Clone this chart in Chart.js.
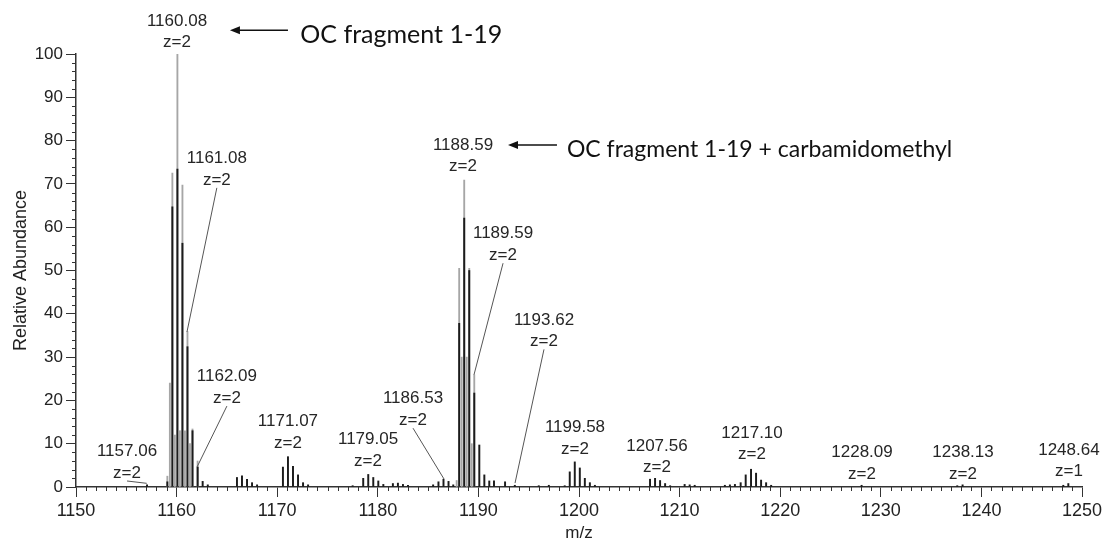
<!DOCTYPE html>
<html><head><meta charset="utf-8">
<script src="https://cdn.jsdelivr.net/npm/chart.js@4.4.1/dist/chart.umd.min.js"></script>
<style>html,body{margin:0;padding:0;background:#fff;}#wrap{width:1110px;height:544px;position:relative;}</style>
</head><body><div id="wrap"><canvas id="c" width="1110" height="544"></canvas></div>
<script>
// ---- data ----
const xTickValues = [1150,1160,1170,1180,1190,1200,1210,1220,1230,1240,1250];
const yTickValues = [0,10,20,30,40,50,60,70,80,90,100];

const mzDark = [1157.06,1159.08,1159.58,1160.08,1160.58,1161.08,1161.58,1162.09,1162.59,1163.1,
  1166.0,1166.5,1167.0,1167.5,1168.0,
  1170.57,1171.07,1171.57,1172.07,1172.57,1173.07,
  1177.5,1178.55,1179.05,1179.55,1180.05,1180.55,1181.5,1182.0,1182.5,1183.0,
  1185.5,1186.03,1186.53,1187.03,1187.5,
  1188.09,1188.59,1189.09,1189.59,1190.09,1190.59,1191.08,1191.55,1192.65,1193.62,
  1196.0,1197.0,1198.58,1199.08,1199.58,1200.08,1200.58,1201.08,1201.58,
  1207.06,1207.56,1208.06,1208.56,1209.06,1210.5,1211.0,1211.5,
  1214.5,1215.0,1215.5,1216.07,1216.57,1217.10,1217.6,1218.1,1218.6,1219.1,
  1228.09,1237.6,1238.13,1248.14,1248.64];
const abDark = [0.5,1.2,64.7,73.4,56.3,32.4,13.0,4.6,1.3,0.5,
  2.2,2.6,1.8,1.0,0.5,
  4.6,7.0,4.8,2.8,1.0,0.5,
  0.3,2.0,2.9,2.2,1.4,0.6,0.8,0.9,0.6,0.4,
  0.5,1.2,1.8,1.3,0.5,
  37.8,62.1,50.0,21.7,9.7,2.8,1.4,1.4,1.2,0.4,
  0.3,0.4,0.3,3.5,5.8,4.4,2.0,1.0,0.4,
  1.8,2.0,1.5,0.8,0.3,0.6,0.5,0.4,
  0.4,0.5,0.6,1.0,2.8,4.1,3.2,1.6,1.0,0.4,
  0.4,0.3,0.5,0.4,0.8];

const mzLight = [1159.08,1159.33,1159.58,1159.83,1160.08,1160.33,1160.58,1160.83,1161.08,1161.33,1161.58,1162.09,
  1187.84,1188.09,1188.34,1188.59,1188.84,1189.09,1189.34,1189.59];
const abLight = [2.5,24.0,72.5,12.0,100,13.0,69.7,13.0,35.9,10.0,13.4,6.0,
  1.5,50.5,30.0,70.9,30.0,50.5,10.0,25.9];

const peakLabels = ['1160.08','1161.08','1162.09','1157.06','1171.07','1179.05','1186.53','1188.59',
  '1189.59','1193.62','1199.58','1207.56','1217.10','1228.09','1238.13','1248.64'];
const peakCharges = ['z=2','z=2','z=2','z=2','z=2','z=2','z=2','z=2','z=2','z=2','z=2','z=2','z=2','z=2','z=2','z=1'];
// label anchor (first line centre) in data units
const labelMz = [1160.04,1164.0,1165.0,1155.07,1171.07,1179.03,1183.5,1188.47,1192.45,1196.52,1199.6,1207.75,1217.2,1228.13,1238.17,1248.7];
const labelAb = [107.6,75.9,25.5,8.2,15.1,10.9,20.4,79.0,58.5,38.6,13.7,9.5,12.4,8.0,8.0,8.5];
// leader line target (peak top) in data units, null = none
const leaderMz = [null,1161.03,1162.03,1157.03,null,null,1186.58,null,1189.56,1193.64,null,null,null,null,null,null];
const leaderAb = [null,35.8,4.6,0.85,null,null,1.85,null,25.9,0.9,null,null,null,null,null,null];

const noteTexts = ['OC fragment 1-19','OC fragment 1-19 + carbamidomethyl'];
const noteHeadMz = [1165.3,1192.94];
const noteTailMz = [1171.07,1197.81];
const noteTextMz = [1172.3,1198.8];
const noteAb = [105.5,79.0];
const noteFontPx = [25,23];

// ---- chart ----
const FONT = '"Liberation Sans", Arial, sans-serif';
const annot = {
  id: 'annot',
  afterDraw(chart) {
    const ctx = chart.ctx, xs = chart.scales.x, ys = chart.scales.y;
    ctx.save();
    // minor ticks
    ctx.strokeStyle = '#333'; ctx.lineWidth = 1;
    const b = ys.getPixelForValue(0);
    for (let v = 1151; v < 1250; v++) {
      if (v % 10 === 0) continue;
      const px = Math.round(xs.getPixelForValue(v)) + 0.5;
      ctx.beginPath(); ctx.moveTo(px, b); ctx.lineTo(px, b + 4); ctx.stroke();
    }
    const l = xs.getPixelForValue(1150);
    for (let v = 2; v < 100; v += 2) {
      if (v % 10 === 0) continue;
      const py = Math.round(ys.getPixelForValue(v)) + 0.5;
      ctx.beginPath(); ctx.moveTo(l - 4, py); ctx.lineTo(l, py); ctx.stroke();
    }
    // peak labels
    ctx.font = '17px ' + FONT; ctx.fillStyle = '#262626';
    ctx.textAlign = 'center'; ctx.textBaseline = 'middle';
    for (let i = 0; i < peakLabels.length; i++) {
      const px = xs.getPixelForValue(labelMz[i]);
      const py = ys.getPixelForValue(labelAb[i]);
      ctx.fillText(peakLabels[i], px, py);
      ctx.fillText(peakCharges[i], px, py + 21.5);
      if (leaderMz[i] !== null) {
        ctx.strokeStyle = '#555'; ctx.lineWidth = 1;
        ctx.beginPath();
        ctx.moveTo(px, py + 21.5 + 8);
        ctx.lineTo(xs.getPixelForValue(leaderMz[i]), ys.getPixelForValue(leaderAb[i]));
        ctx.stroke();
      }
    }
    // notes with arrows
    ctx.textAlign = 'left'; ctx.fillStyle = '#111'; ctx.strokeStyle = '#111';
    for (let i = 0; i < noteTexts.length; i++) {
      const y = ys.getPixelForValue(noteAb[i]);
      const hx = xs.getPixelForValue(noteHeadMz[i]);
      const tx = xs.getPixelForValue(noteTailMz[i]);
      ctx.lineWidth = 1.5;
      ctx.beginPath(); ctx.moveTo(tx, y); ctx.lineTo(hx + 6, y); ctx.stroke();
      ctx.beginPath(); ctx.moveTo(hx, y); ctx.lineTo(hx + 10, y - 4); ctx.lineTo(hx + 10, y + 4); ctx.closePath(); ctx.fill();
      ctx.font = noteFontPx[i] + 'px Lato, "Open Sans", sans-serif';
      ctx.fillText(noteTexts[i], xs.getPixelForValue(noteTextMz[i]), y + 5);
    }
    ctx.restore();
  }
};

new Chart(document.getElementById('c'), {
  type: 'bar',
  data: {
    datasets: [
      { label: 'dark', data: mzDark.map((m, i) => ({x: m, y: abDark[i]})), backgroundColor: '#1c1c1c',
        barThickness: 1.3, grouped: false, order: 1 },
      { label: 'light', data: mzLight.map((m, i) => ({x: m, y: abLight[i]})), backgroundColor: '#a6a6a6',
        barThickness: 1.2, grouped: false, order: 2 }
    ]
  },
  options: {
    responsive: false, animation: false,
    layout: { padding: { left: 0, top: 54, right: 28, bottom: 0 } },
    plugins: { legend: { display: false }, tooltip: { enabled: false } },
    scales: {
      x: {
        type: 'linear', min: 1150, max: 1250, offset: false,
        afterFit(s) { s.height = 57; },
        afterBuildTicks(s) { s.ticks = xTickValues.map(v => ({value: v})); },
        ticks: { font: { size: 18, family: FONT }, color: '#222', padding: 3, maxRotation: 0, autoSkip: false,
          callback: v => String(v) },
        grid: { display: true, drawOnChartArea: false, drawTicks: true, tickLength: 10, color: '#333', offset: false },
        border: { display: true, color: '#333', width: 1.5 },
        title: { display: true, text: 'm/z', font: { size: 17, family: FONT }, color: '#222', padding: { top: 2, bottom: 0 } }
      },
      y: {
        min: 0, max: 100,
        afterFit(s) { s.width = 76; },
        afterBuildTicks(s) { s.ticks = yTickValues.map(v => ({value: v})); },
        ticks: { font: { size: 17, family: FONT }, color: '#222', padding: 3, callback: v => String(v) },
        grid: { display: true, drawOnChartArea: false, drawTicks: true, tickLength: 10, color: '#333' },
        border: { display: true, color: '#333', width: 1.5 },
        title: { display: true, text: 'Relative Abundance', font: { size: 18, family: FONT }, color: '#222', padding: { top: 10, bottom: 0 } }
      }
    }
  },
  plugins: [annot]
});
</script></body></html>
